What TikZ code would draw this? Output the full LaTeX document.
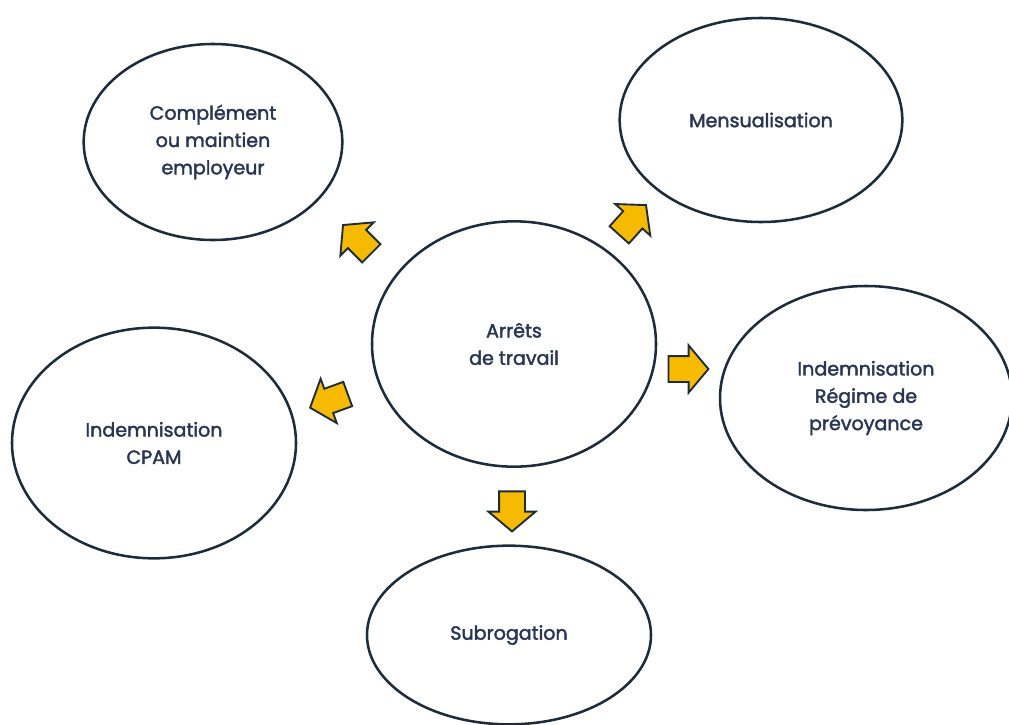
\documentclass[tikz,border=0pt]{standalone}
\usepackage{fontspec}
\setmainfont{Poppins}[FakeBold=2]
\usetikzlibrary{shapes.geometric,shapes.arrows}

\definecolor{inkNavy}{RGB}{28,44,58}
\definecolor{textNavy}{RGB}{40,54,84}
\definecolor{arrowAmber}{RGB}{246,186,0}

\tikzset{every picture/.style={line width=0.75pt}}
\tikzset{
  bubble/.style={ellipse, draw=inkNavy, line width=1.9pt, inner sep=0pt,
    text=textNavy, align=center, font=\fontsize{14.3}{20.5}\selectfont},
  bigarrow/.style={single arrow, draw=inkNavy, fill=arrowAmber, line width=1.4pt,
    inner xsep=0pt, inner ysep=9pt, minimum height=30pt,
    single arrow head extend=8pt, single arrow tip angle=100},
}

\begin{document}
\begin{tikzpicture}[x=0.75pt,y=0.75pt,yscale=-1,xscale=1]
\clip (0,0) rectangle (1009,724);

%Shape: Ellipse [centre]
\node [bubble, minimum width=213pt, minimum height=184pt] (arrets) at (514,344) {Arrêts\\de travail};
%Shape: Ellipse [top left]
\node [bubble, minimum width=194pt, minimum height=147pt] (complement) at (213,142) {Complément\\ou maintien\\employeur};
%Shape: Ellipse [top right]
\node [bubble, minimum width=212pt, minimum height=153pt] (mensual) at (761,120) {Mensualisation};
%Shape: Ellipse [right]
\node [bubble, minimum width=219pt, minimum height=168pt] (prevoyance) at (866,398) {Indemnisation\\Régime de\\prévoyance};
%Shape: Ellipse [left]
\node [bubble, minimum width=213pt, minimum height=173pt] (cpam) at (154,443) {Indemnisation\\CPAM};
%Shape: Ellipse [bottom]
\node [bubble, minimum width=213pt, minimum height=134pt] (subrog) at (509,635) {Subrogation};

%Block Arrows
\node [bigarrow, rotate=135] (toComplement) at (361,243) {};
\node [bigarrow, rotate=48] (toMensual) at (629,224) {};
\node [bigarrow, rotate=0] (toPrevoyance) at (683,369) {};
\node [bigarrow, rotate=-90] (toSubrog) at (512,506) {};
\node [bigarrow, rotate=200] (toCpam) at (334,399) {};

\end{tikzpicture}
\end{document}
